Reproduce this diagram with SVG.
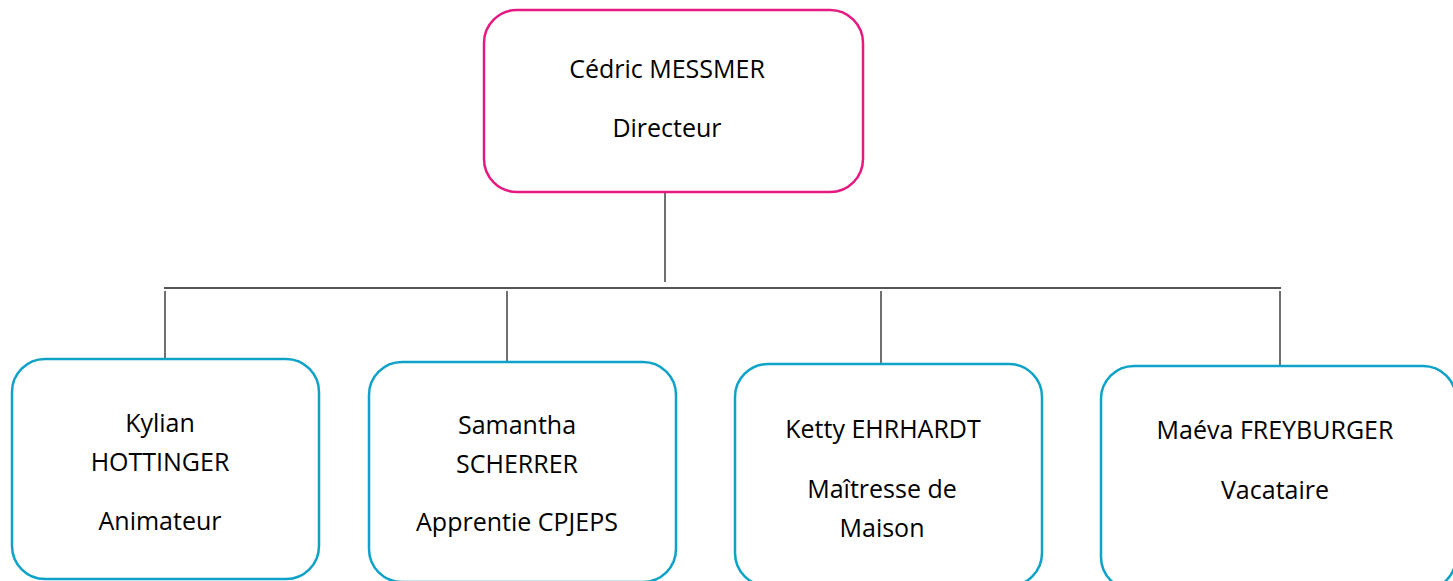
<svg xmlns="http://www.w3.org/2000/svg" width="1453" height="581" viewBox="0 0 1453 581">
<style>
  .top { fill: #ffffff; stroke: #E5197F; stroke-width: 2.5; }
  .box { fill: #ffffff; stroke: #0EA2C9; stroke-width: 2.5; }
  .t { font-family: "Open Sans", "Noto Sans", sans-serif; font-size: 25px; fill: #000000; text-anchor: middle; }
  .bus { stroke: #555555; stroke-width: 2; fill: none; }
  .drop { stroke: #222222; stroke-width: 1.3; fill: none; }
</style>
<rect width="1453" height="581" fill="#ffffff"/>
<g id="connectors">
  <line class="drop" x1="665" y1="193" x2="665" y2="282"/>
  <line class="bus" x1="164" y1="288" x2="1281" y2="288"/>
  <line class="drop" x1="165" y1="291" x2="165" y2="359"/>
  <line class="drop" x1="507" y1="291" x2="507" y2="362"/>
  <line class="drop" x1="881" y1="291" x2="881" y2="364"/>
  <line class="drop" x1="1280" y1="291" x2="1280" y2="366"/>
</g>
<g id="node-cedric">
  <rect class="top" x="484" y="10" width="379" height="182" rx="33" ry="33"/>
  <text class="t" x="667" y="78">Cédric MESSMER</text>
  <text class="t" x="667" y="137">Directeur</text>
</g>
<g id="node-kylian">
  <rect class="box" x="12" y="359" width="307" height="220" rx="33" ry="33"/>
  <text class="t" x="160" y="432">Kylian</text>
  <text class="t" x="160" y="471">HOTTINGER</text>
  <text class="t" x="160" y="530">Animateur</text>
</g>
<g id="node-samantha">
  <rect class="box" x="369" y="362" width="307" height="220" rx="33" ry="33"/>
  <text class="t" x="517" y="434">Samantha</text>
  <text class="t" x="517" y="473">SCHERRER</text>
  <text class="t" x="517" y="531">Apprentie CPJEPS</text>
</g>
<g id="node-ketty">
  <rect class="box" x="735" y="364" width="307" height="222" rx="33" ry="33"/>
  <text class="t" x="883" y="438">Ketty EHRHARDT</text>
  <text class="t" x="882" y="498">Maîtresse de</text>
  <text class="t" x="882" y="537">Maison</text>
</g>
<g id="node-maeva">
  <rect class="box" x="1101" y="366" width="355" height="224" rx="33" ry="33"/>
  <text class="t" x="1275" y="439">Maéva FREYBURGER</text>
  <text class="t" x="1275" y="499">Vacataire</text>
</g>
</svg>
